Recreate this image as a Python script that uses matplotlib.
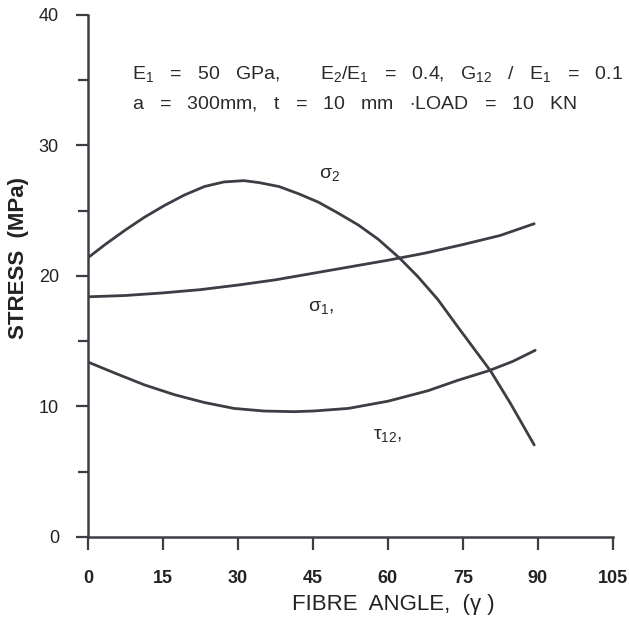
"""
Stress vs fibre angle (scanned figure re-draw)
Output: out.png
"""
import matplotlib as mpl
import matplotlib.pyplot as plt
from matplotlib.ticker import MultipleLocator

mpl.rcParams["font.family"] = ["Liberation Sans", "DejaVu Sans"]
mpl.rcParams["mathtext.fontset"] = "custom"
mpl.rcParams["mathtext.rm"] = "Liberation Sans"
mpl.rcParams["mathtext.it"] = "Liberation Sans"

INK = "#3d3d45"

# values (fibre angle in deg, stress in MPa)
sigma2_angle = [0, 3.4, 7.4, 11.3, 15.3, 19.3, 23.3, 27.2, 31.2, 34.2, 38.2, 42.1,
                46.1, 50.1, 54.1, 58.1, 62.4, 66.0, 70.0, 74.0, 77.3, 80.6, 84.6, 89.3]
sigma2 = [21.4, 22.4, 23.5, 24.5, 25.4, 26.2, 26.85, 27.2, 27.3, 27.15, 26.85, 26.3,
          25.65, 24.8, 23.9, 22.8, 21.35, 19.95, 18.2, 16.1, 14.4, 12.7, 10.2, 7.05]

sigma1_angle = [0, 7.5, 15, 22.5, 30, 37.5, 45, 52.5, 60, 67.5, 75, 82.5, 89.3]
sigma1 = [18.4, 18.5, 18.7, 18.95, 19.3, 19.7, 20.2, 20.7, 21.2, 21.75, 22.4, 23.1, 24.0]

tau12_angle = [0, 5.4, 11.3, 17.3, 23.3, 29.2, 35.2, 41.2, 45.1, 52.1, 60.0, 68.0,
               74.0, 80.3, 85.0, 89.5]
tau12 = [13.4, 12.55, 11.65, 10.9, 10.3, 9.85, 9.65, 9.6, 9.65, 9.85, 10.4, 11.2,
         12.0, 12.75, 13.45, 14.3]

x_ticks = [0, 15, 30, 45, 60, 75, 90, 105]
y_ticks = [0, 10, 20, 30, 40]


def main() -> None:
    fig = plt.figure(figsize=(6.29, 6.19), dpi=100)
    ax = fig.add_axes([0.140, 0.1325, 0.834, 0.8435])

    for xs, ys in ((sigma2_angle, sigma2), (sigma1_angle, sigma1), (tau12_angle, tau12)):
        ax.plot(xs, ys, color=INK, linewidth=2.0, solid_capstyle="round",
                solid_joinstyle="round")

    ax.set_xlim(0, 105)
    ax.set_ylim(0, 40)
    ax.set_xticks(x_ticks)
    ax.set_yticks(y_ticks)
    ax.yaxis.set_minor_locator(MultipleLocator(5))

    for side in ("top", "right"):
        ax.spines[side].set_visible(False)
    for side in ("left", "bottom"):
        ax.spines[side].set_color(INK)
        ax.spines[side].set_linewidth(1.8)

    ax.tick_params(axis="both", which="both", direction="out",
                   color=INK, width=1.6, labelcolor="#222222")
    ax.tick_params(axis="y", which="major", length=9, pad=12, labelsize=13)
    ax.tick_params(axis="y", which="minor", length=7)
    ax.tick_params(axis="x", which="major", length=9, pad=15, labelsize=13)
    for lab in ax.get_xticklabels():
        lab.set_fontweight("bold")

    ax.set_xlabel("FIBRE  ANGLE,  (\u03b3 )", fontsize=16, color="#222222",
                  va="center")
    ax.xaxis.set_label_coords(0.582, -0.129)
    ax.set_ylabel("STRESS  (MPa)", fontsize=16, fontweight="bold",
                  color="#222222", va="center")
    ax.yaxis.set_label_coords(-0.133, 0.5 + (276 - 258) / 522)

    txt = dict(fontsize=14, color="#2a2a2a", va="center", ha="left")
    ax.text(8.8, 35.5, r"E$_1$   =   50   GPa,", **txt)
    ax.text(46.5, 35.5, r"E$_2$/E$_1$   =   0.4,   G$_{12}$   /   E$_1$   =   0.1", **txt)
    ax.text(8.8, 33.2, r"a   =   300mm,   t   =   10   mm   $\cdot$LOAD   =   10   KN", **txt)

    lab = dict(fontsize=14, color="#2a2a2a", ha="center", va="center")
    ax.text(48.3, 27.8, r"$\sigma_2$", **lab)
    ax.text(46.5, 17.6, r"$\sigma_1$,", **lab)
    ax.text(60.0, 7.8, r"$\tau_{12}$,", **lab)

    fig.savefig("out.png", dpi=100)
    plt.close(fig)


if __name__ == "__main__":
    main()
